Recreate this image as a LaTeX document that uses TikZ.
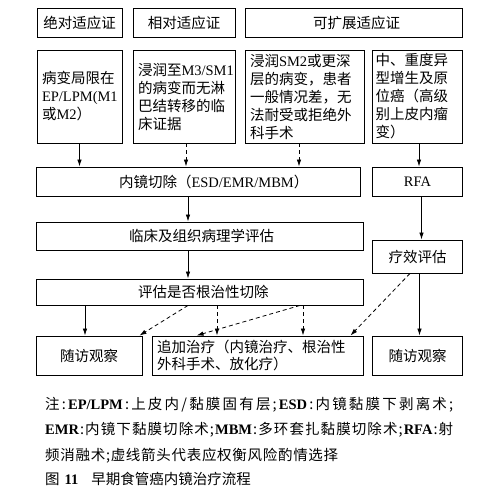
\documentclass[tikz,border=0pt]{standalone}
\usepackage{fontspec}
\setmainfont{Noto Sans CJK SC}
\newfontfamily\latf{Liberation Serif}
\usetikzlibrary{arrows.meta}
\newcommand\ltn[1]{{\latf #1}}
\newcommand\lbf[1]{{\latf\bfseries #1}}
\newcommand\gl{\hskip 0pt plus 1pt\relax}
% CJK character class for inter-character stretch (used only in the note)
\count255="3000 \loop \XeTeXcharclass\count255=3 \advance\count255 by 1 \ifnum\count255<"3040 \repeat
\count255="4E00 \loop \XeTeXcharclass\count255=3 \advance\count255 by 1 \ifnum\count255<"A000 \repeat
\count255="FF00 \loop \XeTeXcharclass\count255=3 \advance\count255 by 1 \ifnum\count255<"FFF0 \repeat
\XeTeXinterchartoks 3 3 = {\gl}
\XeTeXinterchartoks 0 3 = {\gl}
\XeTeXinterchartoks 3 0 = {\gl}
\begin{document}
\begin{tikzpicture}[x=1pt,y=-1pt,
  box/.style={draw, line width=0.9pt, inner sep=0pt, font=\fontsize{14.5}{18}\selectfont},
  arr/.style={line width=0.8pt, -{Latex[length=7pt,width=4.5pt]}},
  dsh/.style={dash pattern=on 4pt off 3pt},
  note/.style={anchor=west, inner sep=0pt, font=\fontsize{14.5}{18}\selectfont}]
\useasboundingbox (0,0) rectangle (483,500);
\fill[white] (0,0) rectangle (483,500);

% top row
\node[box, minimum width=85pt, minimum height=29pt] (t1) at (79.5,22.5) {绝对适应证};
\node[box, minimum width=102pt, minimum height=29pt] (t2) at (184,22.5) {相对适应证};
\node[box, minimum width=217pt, minimum height=29pt] (t3) at (353.5,22.5) {\hspace*{6pt}可扩展适应证};

% second row
\node[box, minimum width=85pt, minimum height=93pt, text width=75pt, align=left] (r1) at (79.5,96.5)
  {病变局限在\\\ltn{EP/LPM(M1}\\或\ltn{M2}）};
\node[box, minimum width=102pt, minimum height=93pt, text width=92pt, align=left] (r2) at (184,96.5)
  {浸润至\ltn{M3/SM1}\\的病变而无淋\\巴结转移的临\\床证据};
\node[box, minimum width=119pt, minimum height=93pt, text width=109pt, align=left] (r3) at (304.5,96.5)
  {浸润\ltn{SM2}或更深\\层的病变，患者\\一般情况差，无\\法耐受或拒绝外\\科手术};
\node[box, minimum width=90pt, minimum height=93pt, text width=84pt, align=left] (r4) at (417.5,96.5)
  {中、重度异\\型增生及原\\位癌（高级\\别上皮内瘤\\变）};

% middle
\node[box, minimum width=324pt, minimum height=29pt, text width=314pt, align=left] (esd) at (198,181.5)
  {\hspace*{78pt}内镜切除（\ltn{ESD/EMR/MBM}）};
\node[box, minimum width=90pt, minimum height=29pt] (rfa) at (417.5,181.5) {\ltn{RFA}};
\node[box, minimum width=327pt, minimum height=28pt, text width=317pt, align=left] (clin) at (199.5,236)
  {\hspace*{88pt}临床及组织病理学评估};
\node[box, minimum width=90pt, minimum height=33pt] (eff) at (417.5,256.5) {疗效评估};
\node[box, minimum width=327pt, minimum height=26pt, text width=317pt, align=left] (eval) at (199.5,292)
  {\hspace*{97pt}评估是否根治性切除};

% bottom row
\node[box, minimum width=106pt, minimum height=39pt] (fu1) at (89,355.5) {随访观察};
\node[box, minimum width=211pt, minimum height=39pt, text width=201pt, align=left, font=\fontsize{14.5}{17}\selectfont] (add) at (257.5,355.5)
  {追加治疗（内镜治疗、根治性\\外科手术、放化疗）};
\node[box, minimum width=90pt, minimum height=39pt] (fu2) at (417.5,355.5) {随访观察};

% connectors
\draw[arr] (r1.south) -- (r1.south |- esd.north);
\coordinate (a2) at ([xshift=2pt]r2.south);
\draw[arr,dsh] (a2) -- (a2 |- esd.north);
\coordinate (a3) at ([xshift=-5.5pt]r3.south);
\draw[arr,dsh] (a3) -- (a3 |- esd.north);
\coordinate (a4) at ([xshift=1.5pt]r4.south);
\draw[arr] (a4) -- (a4 |- rfa.north);

\coordinate (b1) at ([xshift=-10pt]esd.south);
\draw[arr] (b1) -- (b1 |- clin.north);
\coordinate (b2) at ([xshift=4pt]rfa.south);
\draw[arr] (b2) -- (b2 |- eff.north);
\coordinate (b3) at ([xshift=-11.5pt]clin.south);
\draw[arr] (b3) -- (b3 |- eval.north);

\coordinate (e1) at ([xshift=-114.5pt]eval.south);
\draw[arr] (e1) -- (e1 |- fu1.north);
\coordinate (e2) at ([xshift=-11.5pt]eval.south);
\draw[arr,dsh] (e2) -- ([xshift=-3pt]fu1.north east);
\coordinate (e3) at ([xshift=17.5pt]eval.south);
\draw[arr,dsh] (e3) -- (e3 |- add.north);
\coordinate (e4) at ([xshift=103.5pt]eval.south);
\draw[arr,dsh] (e4) -- (e4 |- add.north);
\draw[arr,dsh] ([xshift=-3pt]e4) -- ([xshift=45pt]add.north west);
\coordinate (f1) at ([xshift=-7.5pt]eff.south);
\draw[arr,dsh] (f1) -- ([xshift=-13pt]add.north east);
\coordinate (f2) at ([xshift=2pt]eff.south);
\draw[arr] (f2) -- (f2 |- fu2.north);

% note
\node[note] (n1) at (45,405) {\XeTeXinterchartokenstate=1
  \makebox[408pt][s]{注:\gl\lbf{EP/LPM}\gl:上皮内/黏膜固有层;\gl\lbf{ESD}\gl:内镜黏膜下剥离术;}};
\node[note] (n2) at (45,430) {\XeTeXinterchartokenstate=1
  \makebox[408pt][s]{\lbf{EMR}\gl:内镜下黏膜切除术;\gl\lbf{MBM}\gl:多环套扎黏膜切除术;\gl\lbf{RFA}\gl:射}};
\node[note] (n3) at (45,456) {\XeTeXinterchartokenstate=1
  \makebox[293pt][s]{频消融术;虚线箭头代表应权衡风险酌情选择}};
\node[note] (cap) at (45,479) {图\hspace{5pt}\lbf{11}\hspace{13pt}早期食管癌内镜治疗流程};
\end{tikzpicture}
\end{document}
